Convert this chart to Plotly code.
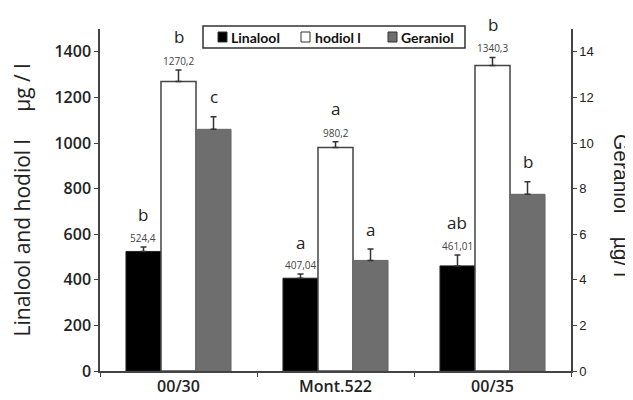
import plotly.graph_objects as go

categories = ["00/30", "Mont.522", "00/35"]
linalool = [524.4, 407.04, 461.01]
linalool_err = [20, 18, 48]
hodiol = [1270.2, 980.2, 1340.3]
hodiol_err = [50, 25, 35]
geraniol = [10.6, 4.85, 7.75]
geraniol_err = [0.55, 0.5, 0.55]

linalool_labels = ["524,4", "407,04", "461,01"]
hodiol_labels = ["1270,2", "980,2", "1340,3"]
linalool_letters = ["b", "a", "ab"]
hodiol_letters = ["b", "a", "b"]
geraniol_letters = ["c", "a", "b"]

series_names = ["Linalool", "hodiol l", "Geraniol"]
series_colors = ["#000000", "#ffffff", "#6e6e6e"]

left_ticks = [0, 200, 400, 600, 800, 1000, 1200, 1400]
right_ticks = [0, 2, 4, 6, 8, 10, 12, 14]

FONT = "Open Sans"
BW = 0.223
offsets = [-0.3345, -0.1115, 0.1115]
err_style = dict(type="data", symmetric=False, color="#333333", thickness=1.5, width=3)

# plot area in screen pixels (page body has an 8px margin, compensated below)
PX0, PX1, PY0, PY1 = 100, 571, 29, 371
def px(x):
    return (x - PX0) / (PX1 - PX0)
def py(y):
    return (PY1 - y) / (PY1 - PY0)

fig = go.Figure()
fig.add_trace(go.Bar(
    name=series_names[0], x=categories, y=linalool, width=BW, offset=offsets[0],
    marker=dict(color=series_colors[0], line=dict(color="#222222", width=1)),
    error_y=dict(array=linalool_err, arrayminus=[0] * 3, **err_style), showlegend=False,
))
fig.add_trace(go.Bar(
    name=series_names[1], x=categories, y=hodiol, width=BW, offset=offsets[1],
    marker=dict(color=series_colors[1], line=dict(color="#444444", width=1.5)),
    error_y=dict(array=hodiol_err, arrayminus=[0] * 3, **err_style), showlegend=False,
))
fig.add_trace(go.Bar(
    name=series_names[2], x=categories, y=geraniol, width=BW, offset=offsets[2], yaxis="y2",
    marker=dict(color=series_colors[2], line=dict(color="#666666", width=1)),
    error_y=dict(array=geraniol_err, arrayminus=[0] * 3, **err_style), showlegend=False,
))

ann = []
def cat_x(i, k):
    return i + offsets[k] + BW / 2

for i in range(3):
    top = linalool[i] + linalool_err[i]
    ann.append(dict(x=cat_x(i, 0), y=top, xref="x", yref="y", text=linalool_labels[i],
                    showarrow=False, yanchor="middle", yshift=9,
                    font=dict(family=FONT, size=10, color="#444444")))
    ann.append(dict(x=cat_x(i, 0), y=top, xref="x", yref="y", text=linalool_letters[i],
                    showarrow=False, yanchor="middle", yshift=32,
                    font=dict(family=FONT, size=17, color="#222222")))
    top = hodiol[i] + hodiol_err[i]
    ann.append(dict(x=cat_x(i, 1), y=top, xref="x", yref="y", text=hodiol_labels[i],
                    showarrow=False, yanchor="middle", yshift=9,
                    font=dict(family=FONT, size=10, color="#444444")))
    ann.append(dict(x=cat_x(i, 1), y=top, xref="x", yref="y", text=hodiol_letters[i],
                    showarrow=False, yanchor="middle", yshift=33,
                    font=dict(family=FONT, size=17, color="#222222")))
    top = geraniol[i] + geraniol_err[i]
    ann.append(dict(x=cat_x(i, 2), y=top, xref="x", yref="y2", text=geraniol_letters[i],
                    showarrow=False, yanchor="middle", yshift=20,
                    font=dict(family=FONT, size=17, color="#222222")))

# right axis title
ann.append(dict(x=px(622), y=py(205), xref="paper", yref="paper", text="Geraniol    µg/ l",
                textangle=90, showarrow=False, xanchor="center", yanchor="middle",
                font=dict(family="Liberation Sans", size=21, color="#222222")))

# legend (box, swatches, labels)
shapes = [dict(type="rect", xref="paper", yref="paper", x0=px(203), x1=px(465),
               y0=py(48), y1=py(26), line=dict(color="#333333", width=1.5),
               fillcolor="white", layer="above")]
sw_x = [218, 301, 388]
tx_x = [229, 313, 399]
for k in range(3):
    shapes.append(dict(type="rect", xref="paper", yref="paper", x0=px(sw_x[k]),
                       x1=px(sw_x[k] + 9), y0=py(42), y1=py(32),
                       line=dict(color="#333333", width=1), fillcolor=series_colors[k],
                       layer="above"))
    ann.append(dict(x=px(tx_x[k]), y=py(37), xref="paper", yref="paper",
                    text=series_names[k], showarrow=False, xanchor="left", yanchor="middle",
                    font=dict(family="Lato", size=14, color="#111111", weight=700)))

fig.update_layout(
    width=633, height=400,
    margin=dict(l=PX0 - 8, r=633 - PX1 + 8, t=PY0 - 8, b=400 - PY1 + 8),
    paper_bgcolor="white", plot_bgcolor="white",
    barmode="overlay",
    font=dict(family=FONT, color="#222222"),
    showlegend=False,
    xaxis=dict(showline=True, linecolor="#444444", linewidth=1.5, ticks="outside",
               tickson="boundaries", ticklen=4, tickcolor="#444444", automargin=False,
               tickfont=dict(family=FONT, size=16, color="#222222", weight=600),
               showgrid=False, zeroline=False),
    yaxis=dict(range=[0, 1500], tickvals=left_ticks, showline=True, linecolor="#444444",
               linewidth=1.5, ticks="outside", ticklen=4, tickcolor="#444444",
               tickfont=dict(family=FONT, size=16, color="#222222", weight=600),
               showgrid=False, zeroline=False, automargin=False,
               title=dict(text="Linalool and hodiol l     µg / l", standoff=24,
                          font=dict(family=FONT, size=21, color="#222222"))),
    yaxis2=dict(range=[0, 15], tickvals=right_ticks, overlaying="y", side="right",
                showline=True, linecolor="#444444", linewidth=1.5, ticks="outside",
                ticklen=4, tickcolor="#444444", automargin=False,
                tickfont=dict(family="Liberation Sans", size=13, color="#222222"),
                showgrid=False, zeroline=False),
    annotations=ann,
    shapes=shapes,
)

fig.write_html("out.html")
